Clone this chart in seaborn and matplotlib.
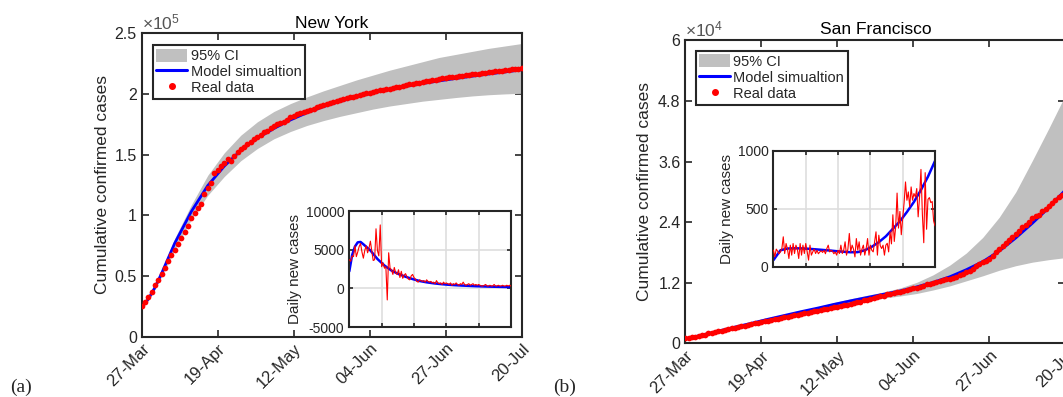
import numpy as np
import matplotlib
matplotlib.use("Agg")
import matplotlib.pyplot as plt
from matplotlib.lines import Line2D
from matplotlib.patches import Patch
from matplotlib.ticker import FuncFormatter
import seaborn as sns

# ---------------- values ----------------
date_ticks = [0, 23, 46, 69, 92, 115]          # days after 27-Mar
date_labels = ["27-Mar", "19-Apr", "12-May", "04-Jun", "27-Jun", "20-Jul"]

# New York: reported daily new cases (27-Mar .. 20-Jul), cumulative count on 27-Mar
ny_start = 25300
ny_daily = [3700,
            3500, 4200, 4100, 5500, 4100,
            4700, 5400, 5800, 4700, 3900,
            4900, 5500, 4600, 5200, 6100,
            4800, 3600, 3700, 7700, 4900,
            4200, 8200,
            2800, 3300, 2600, 2800,
            -1500, 4600, 2600, 2400, 1800, 2700, 2000, 1800, 2400,
            1400, 2200, 1300, 1700, 1900, 1500, 1200, 1100, 1600, 1800, 1400,
            1200, 900, 800, 1100, 1000, 900, 1000, 800, 1100, 900, 800,
            900, 700, 800, 600, 1000, 700, 600, 700, 500, 800, 600, 700,
            600, 500, 700, 400, 600, 500, 700, 500, 400, 600, 500, 800,
            500, 400, 500, 600, 400, 500, 600, 400, 500, 400, 500,
            400, 300, 300, 400, 500, 300, 300, 400, 300, 300, 500, 300,
            300, 400, 300, 300, 400, 300, 300, 400, 300, 400, 300]

# New York model output and 95% CI
ny_model_days = [0, 2, 4, 6, 8, 10, 15, 20, 25, 30, 35, 40, 45, 50, 55,
                 60, 65, 70, 75, 80, 85, 90, 95, 100, 105, 110, 115]
ny_model_cum = [24000, 31000, 40500, 52000, 64500, 77000, 103000, 124500,
                140500, 153500, 163500, 171500, 178500, 184500, 189500,
                193800, 197500, 200800, 203700, 206300, 208600, 210700,
                212700, 214600, 216400, 218100, 219800]
ny_ci_low = [23500, 30000, 39000, 49500, 60500, 71500, 96500, 116500,
             132000, 145000, 155000, 163000, 169000, 174000, 178000,
             181500, 184500, 187500, 190000, 192000, 194000, 195500,
             197000, 198300, 199300, 200000, 200500]
ny_ci_high = [24500, 32000, 42000, 54500, 67500, 81000, 108500, 133000,
              151500, 166000, 177000, 185500, 192000, 197500, 202500,
              207000, 211500, 215500, 219500, 223000, 226500, 230000,
              232500, 235000, 237500, 239500, 241500]
ny_model_daily = [2200, 4300, 5400, 5950, 6000, 5700, 4900, 3800, 2950, 2300,
                  1850, 1500, 1200, 950, 780, 650, 550, 470, 410, 360, 320,
                  280, 250, 220, 200, 180, 160]

# San Francisco
sf_start = 1000
sf_daily = [141, 83, 150, 132, 110, 126, 155, 256, 112, 198,
            150, 69, 184, 98, 198, 112, 184, 150, 69, 198,
            98, 184, 112, 198, 130, 55, 184, 98, 126, 150,
            112, 140, 110, 126, 135, 121, 140, 110, 155, 184,
            126, 140, 132, 110, 125, 98, 140, 112, 184, 112,
            140, 213, 98, 150, 285, 126, 184, 150, 83, 241,
            141, 213, 98, 150, 184, 98, 155, 241, 98, 184,
            140, 126, 213, 299, 98, 270, 180, 155, 184, 98,
            184, 200, 126, 299, 195, 446, 216, 340, 633, 331,
            475, 274, 418, 550, 729, 571, 643, 514, 686, 571,
            629, 600, 672, 428, 600, 837, 450, 205, 809, 321,
            579, 594, 551, 560, 393, 350]

sf_model_days = [0, 5, 10, 15, 20, 25, 30, 35, 40, 45, 50, 55,
                 60, 65, 70, 75, 80, 85, 90, 95, 100, 105, 110, 115]
sf_model_cum = [950, 1650, 2450, 3250, 4000, 4800, 5550, 6300, 7000, 7750,
                8450, 9100, 9750, 10400, 11200, 12100, 13200, 14600, 16200,
                18300, 20900, 23800, 26900, 30400]
sf_ci_low = [900, 1600, 2380, 3150, 3900, 4650, 5400, 6100, 6800, 7450,
             8050, 8550, 9000, 9400, 9900, 10600, 11400, 12400, 13400,
             14500, 15400, 16100, 16600, 17000]
sf_ci_high = [1000, 1700, 2520, 3350, 4100, 4950, 5700, 6500, 7250, 8100,
              8850, 9550, 10200, 11000, 12100, 13600, 15500, 17900, 21000,
              25000, 30000, 36200, 42600, 49200]
sf_model_daily = [55, 140, 155, 157, 156, 153, 148, 143, 138, 132, 127, 123,
                  124, 140, 170, 210, 260, 325, 390, 470, 557, 660, 775, 910]

# ---------------- styling ----------------
sns.set_style("ticks")
plt.rcParams["font.family"] = ["Liberation Sans", "DejaVu Sans"]
plt.rcParams["mathtext.default"] = "regular"
plt.rcParams["axes.unicode_minus"] = False

DARK = "#262626"
CI_GREY = "#c0c0c0"


def style_axes(ax, tick_len, labelsize):
    for s in ax.spines.values():
        s.set_visible(True)
        s.set_linewidth(1.5)
        s.set_color(DARK)
    ax.tick_params(direction="in", length=tick_len, width=1.2, colors=DARK,
                   top=True, right=True, labelsize=labelsize)


def draw_main(ax, days, cum, mdays, mcum, lo, hi, ymax, ystep, scale, exp,
              title, leg_xy, label_x, title_pad):
    ax.fill_between(mdays, lo, hi, color=CI_GREY, lw=0, zorder=1)
    sns.lineplot(x=mdays, y=mcum, ax=ax, color="blue", lw=2, zorder=2)
    sns.scatterplot(x=days, y=cum, ax=ax, color="red", s=17, linewidth=0,
                    legend=False, zorder=3)
    ax.set_xlim(0, 115)
    ax.set_ylim(0, ymax)
    ax.set_xticks(date_ticks)
    ax.set_xticklabels(date_labels)
    ax.set_yticks(np.arange(0, ymax + 1, ystep))
    ax.yaxis.set_major_formatter(FuncFormatter(lambda v, p: f"{v / scale:g}"))
    style_axes(ax, 5, 11.5)
    ax.tick_params(axis="x", pad=3, labelsize=12)
    for lab in ax.get_xticklabels():
        lab.set_rotation(45)
        lab.set_ha("right")
        lab.set_rotation_mode("anchor")
    ax.set_ylabel("Cumulative confirmed cases", fontsize=12.5, color=DARK)
    ax.yaxis.set_label_coords(label_x, 0.5)
    ax.set_xlabel("")
    ax.set_title(title, fontsize=12.5, pad=title_pad, color="black")
    ax.text(0.0, 1.004, r"$\times10^{%d}$" % exp, transform=ax.transAxes,
            ha="left", va="bottom", fontsize=12.5, color="#555555")
    handles = [Patch(facecolor=CI_GREY, edgecolor="none"),
               Line2D([], [], color="blue", lw=2.2),
               Line2D([], [], color="red", marker=".", ls="none", markersize=8)]
    leg = ax.legend(handles, ["95% CI", "Model simualtion", "Real data"],
                    loc="upper left", bbox_to_anchor=leg_xy, borderaxespad=0,
                    frameon=True, fancybox=False, fontsize=10.5,
                    handlelength=2.1, handleheight=1.0, handletextpad=0.25,
                    labelspacing=0.1, borderpad=0.25)
    leg.get_frame().set_edgecolor(DARK)
    leg.get_frame().set_linewidth(1.5)
    leg.get_frame().set_alpha(1)


def draw_inset(ax, days, daily, mdays, mdaily, ylim, yticks):
    ax.set_axisbelow(True)
    ax.grid(True, color="#dedede", lw=1.2)
    sns.lineplot(x=mdays, y=mdaily, ax=ax, color="blue", lw=1.8, zorder=2)
    sns.lineplot(x=days, y=daily, ax=ax, color="red", lw=0.8, zorder=3)
    ax.set_xlim(0, 115)
    ax.set_ylim(*ylim)
    ax.set_xticks(date_ticks)
    ax.set_xticklabels([])
    ax.set_yticks(yticks)
    style_axes(ax, 3, 10)
    ax.set_xlabel("")
    ax.set_ylabel("Daily new cases", fontsize=11, color=DARK, labelpad=3)


days = np.arange(len(ny_daily))
ny_cum = ny_start + np.concatenate([[0], np.cumsum(ny_daily[1:])])
sf_cum = sf_start + np.concatenate([[0], np.cumsum(sf_daily[1:])])

fig = plt.figure(figsize=(10.63, 3.97), dpi=100)

ax_ny = fig.add_axes([0.1333, 0.1519, 0.3575, 0.7645])
draw_main(ax_ny, days, ny_cum, ny_model_days, ny_model_cum, ny_ci_low,
          ny_ci_high, 250000, 50000, 1e5, 5, "New York", (0.029, 0.961),
          -0.083, 4)
ax_ny_in = fig.add_axes([0.3286, 0.1763, 0.1521, 0.2922])
draw_inset(ax_ny_in, days, ny_daily, ny_model_days, ny_model_daily,
           (-5000, 10000), [-5000, 0, 5000, 10000])

ax_sf = fig.add_axes([0.6447, 0.1348, 0.3575, 0.7632])
draw_main(ax_sf, days, sf_cum, sf_model_days, sf_model_cum, sf_ci_low,
          sf_ci_high, 60000, 12000, 1e4, 4, "San Francisco", (0.027, 0.966),
          -0.087, 5)
ax_sf_in = fig.add_axes([0.7276, 0.3287, 0.1520, 0.2922])
draw_inset(ax_sf_in, days, sf_daily, sf_model_days, sf_model_daily,
           (0, 1000), [0, 500, 1000])

fig.text(10 / 1063, 1 - 392 / 397, "(a)", family="Liberation Serif",
         fontsize=14, va="baseline")
fig.text(553 / 1063, 1 - 392 / 397, "(b)", family="Liberation Serif",
         fontsize=14, va="baseline")

fig.savefig("out.png", dpi=100)
